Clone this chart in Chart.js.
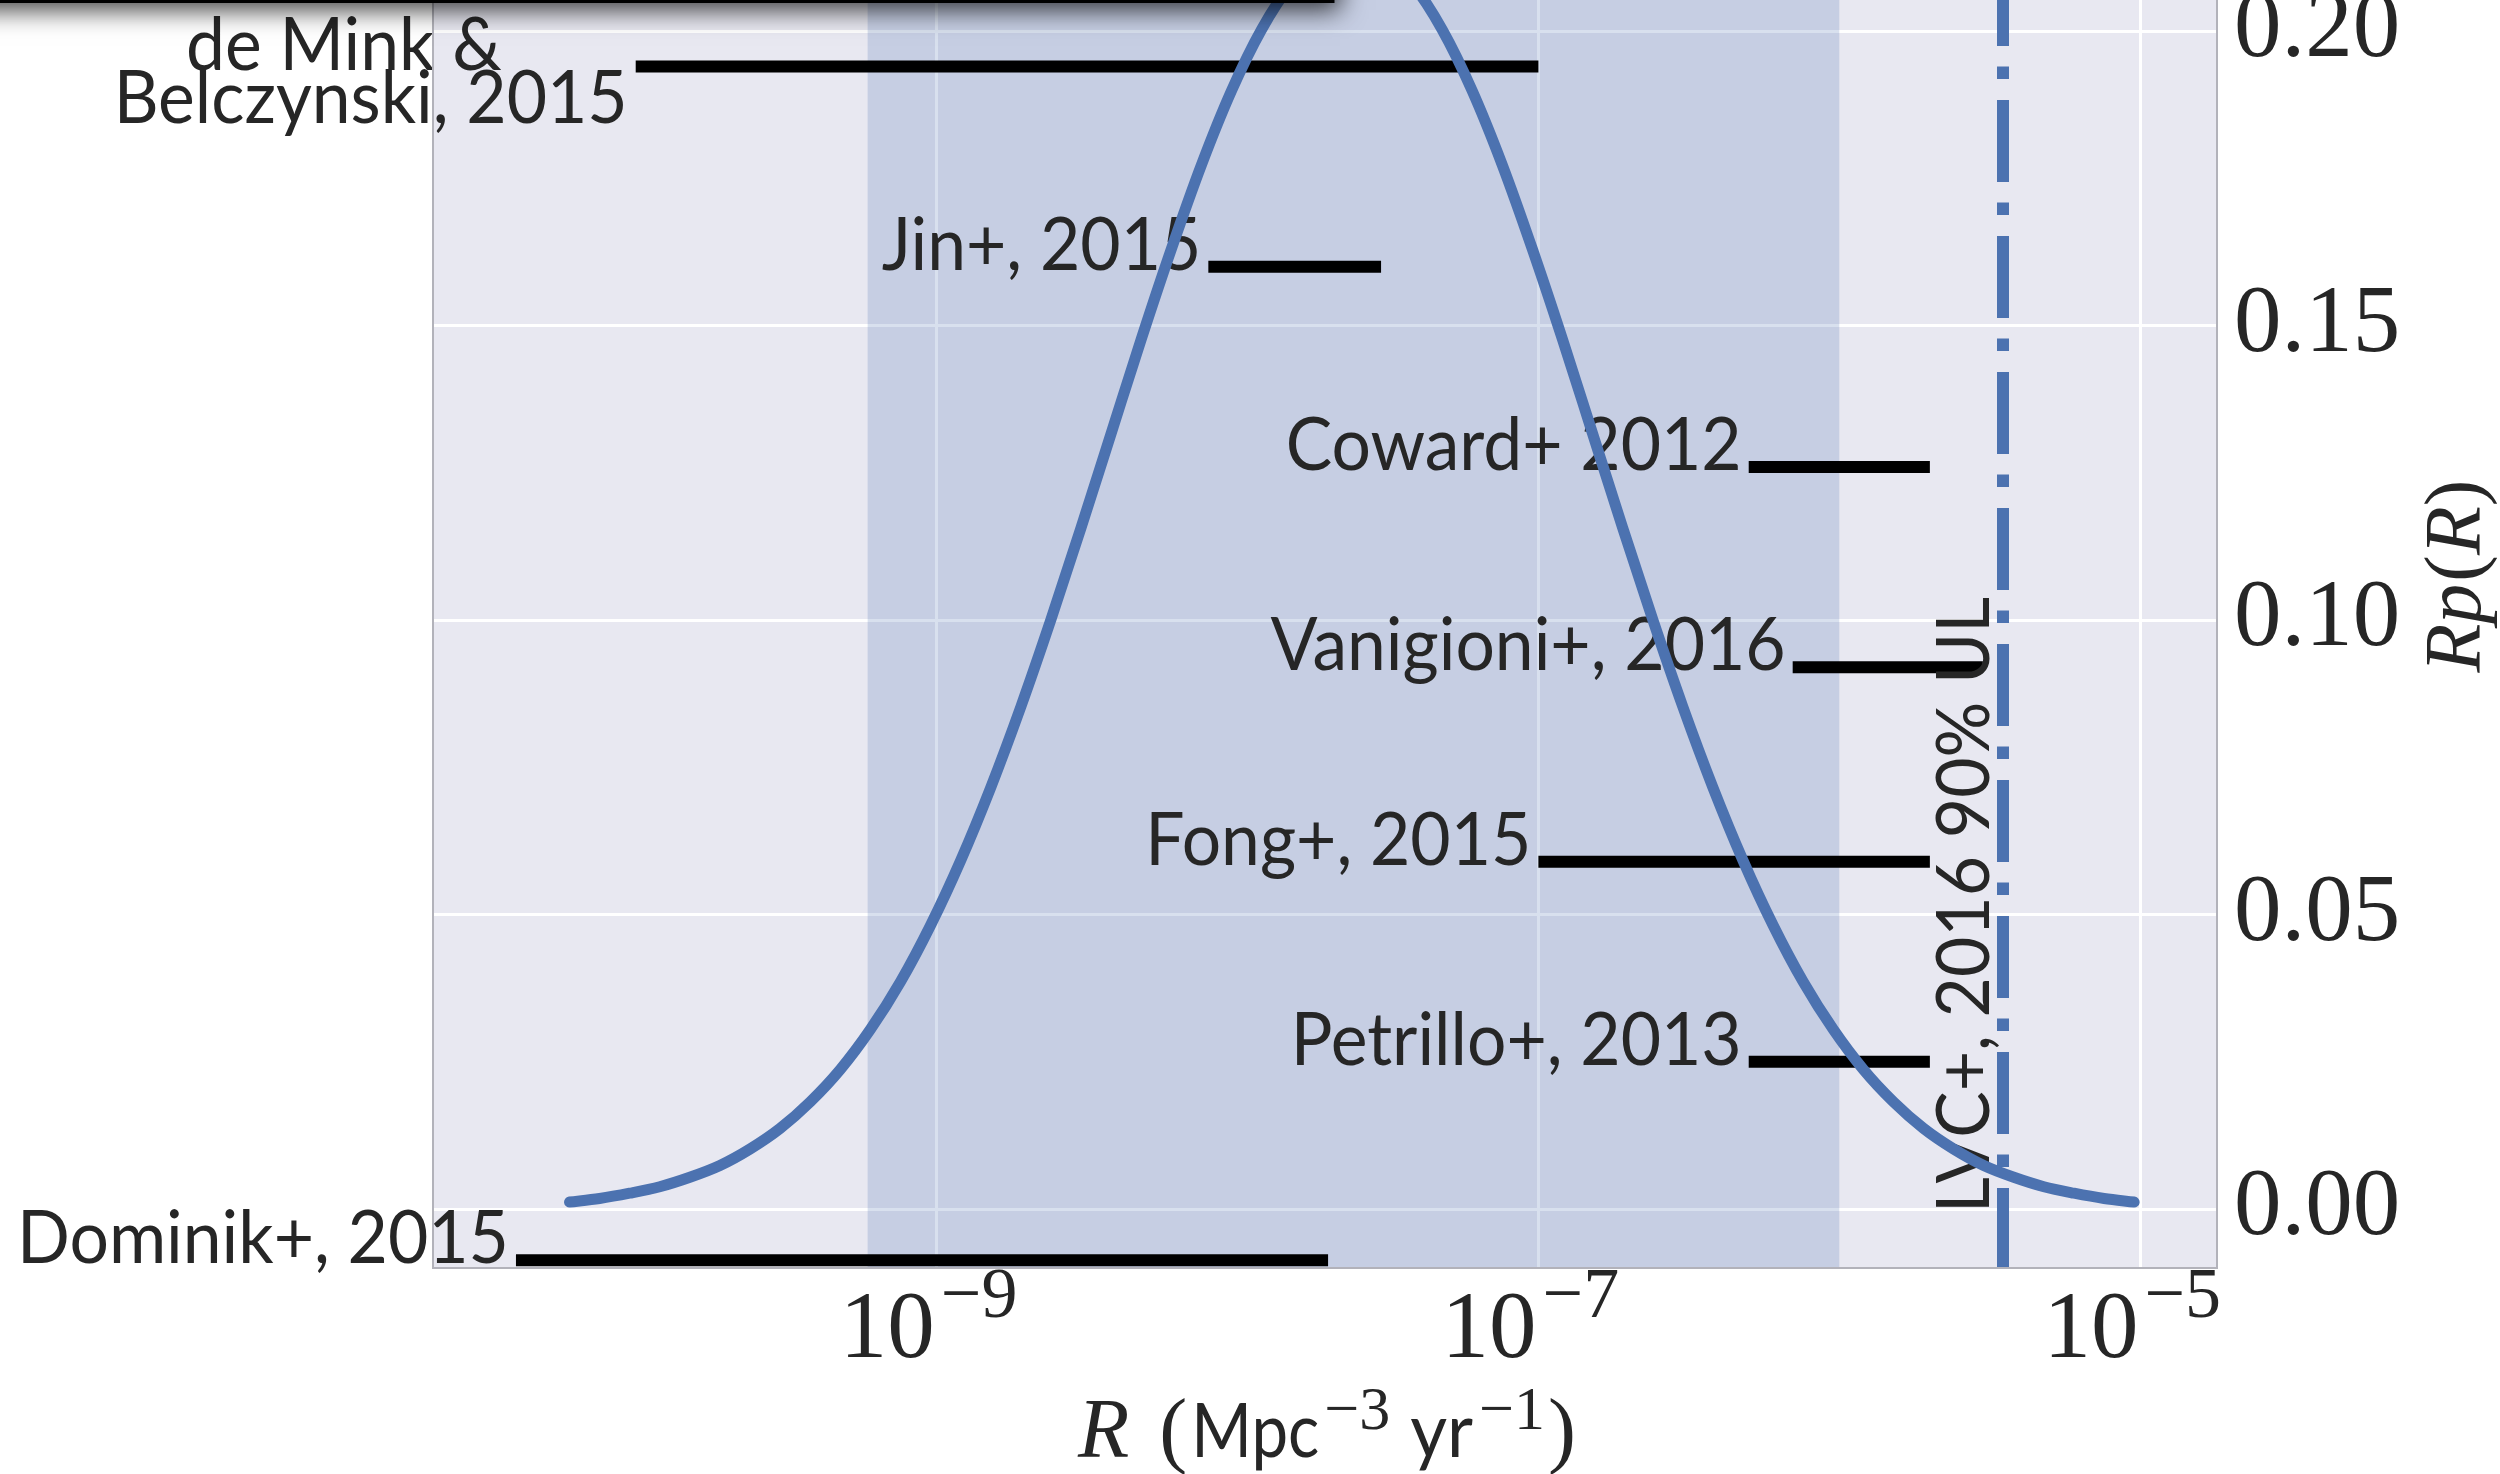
<!DOCTYPE html>
<html>
<head>
<meta charset="utf-8">
<title>Rp(R) against merger rate</title>
<script src="https://cdn.jsdelivr.net/npm/chart.js@4.4.1/dist/chart.umd.min.js"></script>
<style>
  html, body { margin: 0; padding: 0; background: #fff; overflow: hidden; }
  /* the plot runs past the top of the picture, so the canvas is pulled up */
  #wrap { position: absolute; left: 0; top: -116px; width: 2500px; height: 1590px; }
</style>
</head>
<body>
<div id="wrap"><canvas id="rateChart" width="2500" height="1590"></canvas></div>
<script>
// log10 of the rate R (Mpc^-3 yr^-1) where the posterior curve is sampled
const logRate = [
  -10.22, -10.12, -10.02, -9.92, -9.82, -9.72, -9.62, -9.52, -9.42, -9.32,
  -9.22, -9.12, -9.02, -8.92, -8.82, -8.72, -8.62, -8.52, -8.42, -8.32,
  -8.22, -8.12, -8.02, -7.92, -7.82, -7.72, -7.62, -7.52, -7.42, -7.32,
  -7.22, -7.12, -7.02, -6.92, -6.82, -6.72, -6.62, -6.52, -6.42, -6.32,
  -6.22, -6.12, -6.02, -5.92, -5.82, -5.72, -5.62, -5.52, -5.42, -5.32,
  -5.22, -5.12, -5.02
];
// R p(R)
const rpR = [
  0.0012, 0.0018, 0.0027, 0.0038, 0.0054, 0.0074, 0.0102, 0.0137, 0.0182, 0.0237,
  0.0305, 0.0386, 0.0482, 0.0592, 0.0716, 0.0853, 0.1001, 0.1157, 0.1317, 0.1477,
  0.1630, 0.1773, 0.1899, 0.2003, 0.2081, 0.2129, 0.2145, 0.2129, 0.2081, 0.2003,
  0.1899, 0.1773, 0.1630, 0.1477, 0.1317, 0.1157, 0.1001, 0.0853, 0.0716, 0.0592,
  0.0482, 0.0386, 0.0305, 0.0237, 0.0182, 0.0137, 0.0102, 0.0074, 0.0054, 0.0038,
  0.0027, 0.0018, 0.0012
];

// published rate ranges, top to bottom
const studies = [
  'de Mink &\nBelczynski, 2015',
  'Jin+, 2015',
  'Coward+ 2012',
  'Vanigioni+, 2016',
  'Fong+, 2015',
  'Petrillo+, 2013',
  'Dominik+, 2015'
];
const studyLow = [1e-10, 8e-9, 5e-7, 7e-7, 1e-7, 5e-7, 4e-11];
const studyHigh = [1e-7, 3e-8, 2e-6, 3e-6, 2e-6, 2e-6, 2e-8];
const studyRow = [0.194, 0.160, 0.126, 0.092, 0.059, 0.025, -0.0087];

// shaded credible interval and the LVC upper limit
const bandRange = [5.9e-10, 1.0e-6];
const lvcLimit = 3.5e-6;
const lvcText = 'LVC+, 2016 90% UL';

const xTicks = [1e-9, 1e-7, 1e-5];
const xTickExp = ['\u22129', '\u22127', '\u22125'];
const yTicks = [0, 0.05, 0.10, 0.15, 0.20];

const BLUE = '#4C72B0';
const INK = '#262626';
const SERIF = '"Liberation Serif", "DejaVu Serif", serif';
const SANS = 'Lato, "Liberation Sans", sans-serif';
const SQUEEZE = 0.94; // the label font is a touch narrower than Lato

/**
 * Draws a row of text pieces (mixed fonts, superscripts) centred on cx.
 */
function drawRun(ctx, pieces, cx, baseY) {
  let total = 0;
  pieces.forEach(p => {
    ctx.font = p.font;
    p.w = ctx.measureText(p.text).width * (p.sx || 1);
    total += p.w + (p.gap || 0);
  });
  let x = cx - total / 2;
  ctx.textAlign = 'left';
  ctx.textBaseline = 'alphabetic';
  pieces.forEach(p => {
    ctx.font = p.font;
    ctx.save();
    ctx.translate(x, baseY + (p.dy || 0));
    ctx.scale(p.sx || 1, 1);
    ctx.fillText(p.text, 0, 0);
    ctx.restore();
    x += p.w + (p.gap || 0);
  });
}

// narrow sans text, aligned at (x, y) by the current textAlign
function squeezedText(ctx, text, x, y) {
  ctx.save();
  ctx.translate(x, y);
  ctx.scale(SQUEEZE, 1);
  ctx.fillText(text, 0, 0);
  ctx.restore();
}

function drawStudyLabels(chart) {
  const { ctx } = chart;
  const xs = chart.scales.x, ys = chart.scales.y;
  ctx.save();
  ctx.font = `74px ${SANS}`;
  ctx.fillStyle = INK;
  ctx.textAlign = 'right';
  ctx.textBaseline = 'alphabetic';
  studies.forEach((s, i) => {
    const x = xs.getPixelForValue(studyLow[i]);
    const y = ys.getPixelForValue(studyRow[i]);
    const lines = s.split('\n');
    if (lines.length === 1) {
      squeezedText(ctx, s, x - 7, y + 3);
    } else {
      squeezedText(ctx, lines[0], x - 134, y + 3);
      squeezedText(ctx, lines[1], x - 8, y + 56);
    }
  });

  // upper limit label, reading upwards beside the dash-dot line
  ctx.translate(xs.getPixelForValue(lvcLimit) - 14, ys.getPixelForValue(0) + 4);
  ctx.rotate(-Math.PI / 2);
  ctx.textAlign = 'left';
  squeezedText(ctx, lvcText, 0, 0);
  ctx.restore();
}

const decorations = {
  id: 'decorations',
  beforeDraw(chart) {
    const { ctx, chartArea: a } = chart;
    ctx.save();
    ctx.fillStyle = '#E8E8F1';
    ctx.fillRect(a.left, a.top, a.right - a.left, a.bottom - a.top);
    ctx.restore();
  },
  beforeDatasetsDraw(chart) {
    const { ctx, chartArea: a } = chart;
    const xs = chart.scales.x;
    const x0 = xs.getPixelForValue(bandRange[0]);
    const x1 = xs.getPixelForValue(bandRange[1]);
    ctx.save();
    ctx.fillStyle = 'rgba(76, 114, 176, 0.22)';
    ctx.fillRect(x0, a.top, x1 - x0, a.bottom - a.top);
    ctx.restore();
  },
  beforeDatasetDraw(chart, args) {
    // the curve is dataset 0 and is drawn last: put the text right under it
    if (args.index === 0) drawStudyLabels(chart);
  },
  afterDraw(chart) {
    const { ctx, chartArea: a } = chart;
    const xs = chart.scales.x;
    ctx.save();

    // thin frame round the axes
    ctx.strokeStyle = '#b2b2ba';
    ctx.lineWidth = 2;
    ctx.strokeRect(a.left, a.top, a.right - a.left, a.bottom - a.top);

    // x tick labels 10^n
    ctx.fillStyle = INK;
    xTicks.forEach((v, i) => {
      drawRun(ctx, [
        { text: '10', font: `95px ${SERIF}`, gap: 6 },
        { text: xTickExp[i], font: `72px ${SERIF}`, dy: -40 }
      ], xs.getPixelForValue(v) - 8, a.bottom + 89);
    });

    // x axis title
    drawRun(ctx, [
      { text: 'R', font: `italic 84px ${SERIF}`, gap: 30 },
      { text: '(', font: `84px ${SERIF}`, gap: 4 },
      { text: 'Mpc', font: `76px ${SANS}`, sx: 0.86, gap: 5 },
      { text: '\u22123', font: `62px ${SERIF}`, dy: -28, gap: 20 },
      { text: 'yr', font: `76px ${SANS}`, sx: 0.94, gap: 6 },
      { text: '\u22121', font: `62px ${SERIF}`, dy: -28, gap: 3 },
      { text: ')', font: `84px ${SERIF}` }
    ], (a.left + a.right) / 2 + 2, a.bottom + 189);

    // y axis title, reading upwards on the right
    ctx.save();
    ctx.translate(a.right + 263, (a.top + a.bottom) / 2);
    ctx.rotate(-Math.PI / 2);
    drawRun(ctx, [
      { text: 'R', font: `italic 80px ${SERIF}` },
      { text: 'p', font: `italic 80px ${SERIF}`, gap: 2 },
      { text: '(', font: `80px ${SERIF}` },
      { text: 'R', font: `italic 80px ${SERIF}` },
      { text: ')', font: `80px ${SERIF}` }
    ], 0, 0);
    ctx.restore();

    // bottom edge of the legend box, which sits above the picture
    const boxBottom = a.top + 117.5;
    const boxRight = a.left + 900;
    ctx.save();
    ctx.shadowColor = 'rgba(0, 0, 0, 0.75)';
    ctx.shadowBlur = 24;
    ctx.shadowOffsetX = 7;
    ctx.shadowOffsetY = 8;
    ctx.fillStyle = '#fff';
    ctx.fillRect(-60, boxBottom - 320, boxRight + 60, 320);
    ctx.restore();
    ctx.strokeStyle = '#000';
    ctx.lineWidth = 3;
    ctx.strokeRect(-60, boxBottom - 320, boxRight + 60, 320);

    ctx.restore();
  }
};

const datasets = [{
  label: 'Rp(R)',
  data: logRate.map((e, i) => ({ x: Math.pow(10, e), y: rpR[i] })),
  borderColor: BLUE,
  borderWidth: 11,
  pointRadius: 0,
  cubicInterpolationMode: 'monotone',
  borderCapStyle: 'round'
}, {
  label: lvcText,
  data: [{ x: lvcLimit, y: 0.225 }, { x: lvcLimit, y: -0.01 }],
  borderColor: BLUE,
  borderWidth: 12,
  pointRadius: 0,
  borderDash: [82, 20.5, 12.5, 21],
  borderDashOffset: 56,
  borderCapStyle: 'butt'
}];

studies.forEach((s, i) => {
  datasets.push({
    label: s,
    data: [{ x: studyLow[i], y: studyRow[i] }, { x: studyHigh[i], y: studyRow[i] }],
    borderColor: '#000',
    borderWidth: 12,
    pointRadius: 0,
    borderCapStyle: 'butt'
  });
});

new Chart(document.getElementById('rateChart'), {
  type: 'line',
  data: { datasets },
  options: {
    responsive: false,
    animation: false,
    devicePixelRatio: 1,
    layout: { padding: { left: 433, right: 0, top: 0, bottom: 0 } },
    plugins: { legend: { display: false }, tooltip: { enabled: false } },
    scales: {
      x: {
        type: 'logarithmic',
        min: 2.12e-11,
        max: 1.8e-5,
        afterBuildTicks: s => { s.ticks = xTicks.map(v => ({ value: v })); },
        afterFit: s => {
          s.height = 206;
          s.paddingLeft = 0;
          s.paddingRight = 0;
        },
        ticks: { display: false },
        grid: { color: '#ffffff', lineWidth: 3, drawTicks: false },
        border: { display: false }
      },
      y: {
        type: 'linear',
        position: 'right',
        min: -0.01,
        max: 0.225,
        afterBuildTicks: s => { s.ticks = yTicks.map(v => ({ value: v })); },
        afterFit: s => {
          s.width = 283;
          // no room kept for label overhang: the plot fills the canvas height
          s.paddingTop = 0;
          s.paddingBottom = 0;
        },
        ticks: {
          color: INK,
          padding: 17,
          font: { family: SERIF, size: 95 },
          callback: v => v.toFixed(2)
        },
        grid: { color: '#ffffff', lineWidth: 3, drawTicks: false },
        border: { display: false }
      }
    }
  },
  plugins: [decorations]
});
</script>
</body>
</html>
